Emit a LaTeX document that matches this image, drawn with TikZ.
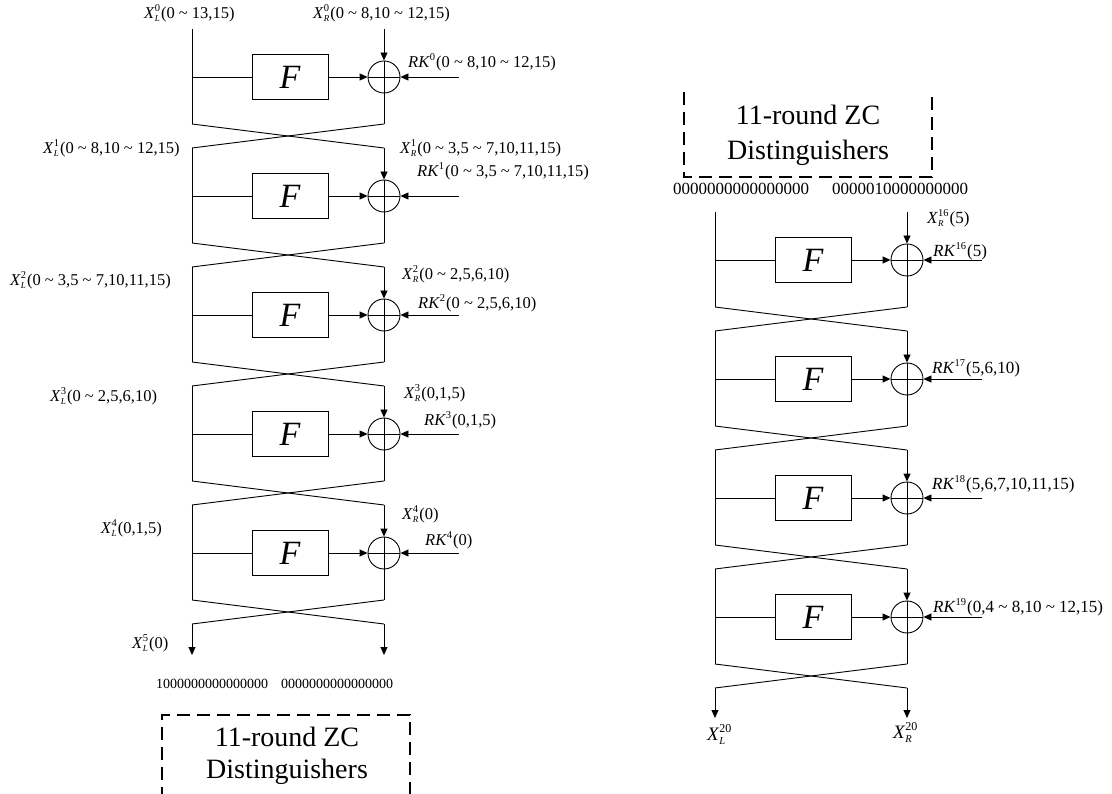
\documentclass[tikz,border=0pt]{standalone}
\usepackage{fontspec}
\setmainfont{Liberation Serif}
\usetikzlibrary{arrows.meta}

\newcommand{\SupSubG}[6]{% sup, sub, supsize, subsize, raise, lower
  \setbox0=\hbox{\fontsize{#3}{#3}\selectfont #1}%
  \setbox2=\hbox{\fontsize{#4}{#4}\selectfont\textit{#2}}%
  \ifdim\wd0>\wd2 \dimen0=\wd0 \else \dimen0=\wd2 \fi
  \rlap{\raise #5\box0}\rlap{\lower #6\box2}\kern\dimen0\kern1pt}
\newcommand{\SupSub}[2]{\SupSubG{#1}{#2}{10.5}{9}{7pt}{3.5pt}}
\newcommand{\SupSubBig}[2]{\SupSubG{#1}{#2}{12}{10.5}{8pt}{4pt}}
\newcommand{\SupOnly}[1]{\raise 7pt\hbox{\fontsize{10.5}{10.5}\selectfont #1}\kern1pt}
\newcommand{\tld}{\textasciitilde{}}

\tikzset{
  wire/.style={line width=0.9pt, draw=black},
  arr/.style={wire, -{Triangle[length=8pt,width=7pt]}},
  fbox/.style={draw, line width=0.9pt, minimum width=76pt, minimum height=45pt, inner sep=0pt,
               font=\fontsize{34}{34}\selectfont\itshape},
  xorc/.style={circle, draw, line width=0.9pt, minimum size=32pt, inner sep=0pt},
  lbl/.style={inner sep=0pt, anchor=west, font=\fontsize{16.5}{18}\selectfont},
  lblr/.style={inner sep=0pt, anchor=west, font=\fontsize{17}{19}\selectfont},
  bitsl/.style={inner sep=0pt, anchor=west, font=\fontsize{14}{16}\selectfont},
  bitsr/.style={inner sep=0pt, anchor=west, font=\fontsize{17}{19}\selectfont},
  zctext/.style={inner sep=0pt, anchor=base, font=\fontsize{28}{32}\selectfont},
  zcbox/.style={line width=1.2pt, dash pattern=on 13pt off 7pt}
}

\newcommand{\roundat}[3]{%
  \coordinate (#1tl) at (#2,{#3-48});
  \coordinate (#1tr) at ({#2+192},{#3-48});
  \coordinate (#1bl) at (#2,{#3+47});
  \coordinate (#1br) at ({#2+192},{#3+47});
  \coordinate (#1ml) at (#2,#3);
  \coordinate (#1k) at ({#2+267},#3);
  \coordinate (#1nl) at (#2,{#3+71});
  \coordinate (#1nr) at ({#2+192},{#3+71});
  \node[fbox] (#1f) at ({#2+98},#3) {F};
  \node[xorc] (#1x) at ({#2+192},#3) {};
  \draw[wire] (#1tl) -- (#1bl);
  \draw[wire] (#1ml) -- (#1f.west);
  \draw[arr] (#1f.east) -- (#1x.west);
  \draw[arr] (#1tr) -- (#1x.north);
  \draw[arr] (#1k) -- (#1x.east);
  \draw[wire] (#1x.north) -- (#1br);
  \draw[wire] (#1x.west) -- (#1x.east);
  \draw[wire] (#1bl) -- (#1nr);
  \draw[wire] (#1br) -- (#1nl);
}

\begin{document}
\begin{tikzpicture}[x=1pt,y=-1pt]
\useasboundingbox (0,0) rectangle (1112,794);

% ---------- left network ----------
\roundat{a0}{192}{77}
\roundat{a1}{192}{196}
\roundat{a2}{192}{315}
\roundat{a3}{192}{434}
\roundat{a4}{192}{553}
\coordinate (aoutl) at (192,655);
\coordinate (aoutr) at (384,655);
\draw[arr] (a4nl) -- (aoutl);
\draw[arr] (a4nr) -- (aoutr);

\node[lbl] (lxl0) at (144,13) {\textit{X}\SupSub{0}{L}(0 \tld{} 13,15)};
\node[lbl] (lxr0) at (313,13) {\textit{X}\SupSub{0}{R}(0 \tld{} 8,10 \tld{} 12,15)};
\node[lbl] (lrk0) at (408,62) {\textit{RK}\SupOnly{0}(0 \tld{} 8,10 \tld{} 12,15)};
\node[lbl] (lxl1) at (43,148) {\textit{X}\SupSub{1}{L}(0 \tld{} 8,10 \tld{} 12,15)};
\node[lbl] (lxr1) at (400,148) {\textit{X}\SupSub{1}{R}(0 \tld{} 3,5 \tld{} 7,10,11,15)};
\node[lbl] (lrk1) at (417,171) {\textit{RK}\SupOnly{1}(0 \tld{} 3,5 \tld{} 7,10,11,15)};
\node[lbl] (lxl2) at (10,280) {\textit{X}\SupSub{2}{L}(0 \tld{} 3,5 \tld{} 7,10,11,15)};
\node[lbl] (lxr2) at (402,274) {\textit{X}\SupSub{2}{R}(0 \tld{} 2,5,6,10)};
\node[lbl] (lrk2) at (418,303) {\textit{RK}\SupOnly{2}(0 \tld{} 2,5,6,10)};
\node[lbl] (lxl3) at (50,396) {\textit{X}\SupSub{3}{L}(0 \tld{} 2,5,6,10)};
\node[lbl] (lxr3) at (404,393) {\textit{X}\SupSub{3}{R}(0,1,5)};
\node[lbl] (lrk3) at (424,420) {\textit{RK}\SupOnly{3}(0,1,5)};
\node[lbl,anchor=east] (lxl4) at (162,528) {\textit{X}\SupSub{4}{L}(0,1,5)};
\node[lbl] (lxr4) at (402,514) {\textit{X}\SupSub{4}{R}(0)};
\node[lbl] (lrk4) at (425,540) {\textit{RK}\SupOnly{4}(0)};
\node[lbl] (lxl5) at (132,643) {\textit{X}\SupSub{5}{L}(0)};

\node[bitsl] (lbits1) at (156,684) {1000000000000000};
\node[bitsl] (lbits2) at (281,684) {0000000000000000};

\draw[zcbox] (162,800) -- (162,715) -- (410,715) -- (410,800);
\node[zctext] (lzc1) at (287,746) {11-round ZC};
\node[zctext] (lzc2) at (287,778) {Distinguishers};

% ---------- right network ----------
\draw[zcbox] (684,92) -- (684,177) -- (932,177) -- (932,92);
\node[zctext] (rzc1) at (808,125) {11-round ZC};
\node[zctext] (rzc2) at (808,160) {Distinguishers};
\node[bitsr] (rbits1) at (673,189) {0000000000000000};
\node[bitsr] (rbits2) at (832,189) {0000010000000000};

\roundat{b0}{715}{260}
\roundat{b1}{715}{379}
\roundat{b2}{715}{498}
\roundat{b3}{715}{617}
\coordinate (boutl) at (715,718);
\coordinate (boutr) at (907,718);
\draw[arr] (b3nl) -- (boutl);
\draw[arr] (b3nr) -- (boutr);

\node[lblr] (rxr16) at (927,218) {\textit{X}\SupSub{16}{R}(5)};
\node[lblr] (rrk16) at (933,251) {\textit{RK}\SupOnly{16}(5)};
\node[lblr] (rrk17) at (932,368) {\textit{RK}\SupOnly{17}(5,6,10)};
\node[lblr] (rrk18) at (932,484) {\textit{RK}\SupOnly{18}(5,6,7,10,11,15)};
\node[lblr] (rrk19) at (933,607) {\textit{RK}\SupOnly{19}(0,4 \tld{} 8,10 \tld{} 12,15)};
\node[lblr,font=\fontsize{19}{21}\selectfont] (rxl20) at (707,735) {\textit{X}\SupSubBig{20}{L}};
\node[lblr,font=\fontsize{19}{21}\selectfont] (rxr20) at (893,733) {\textit{X}\SupSubBig{20}{R}};
\end{tikzpicture}
\end{document}
